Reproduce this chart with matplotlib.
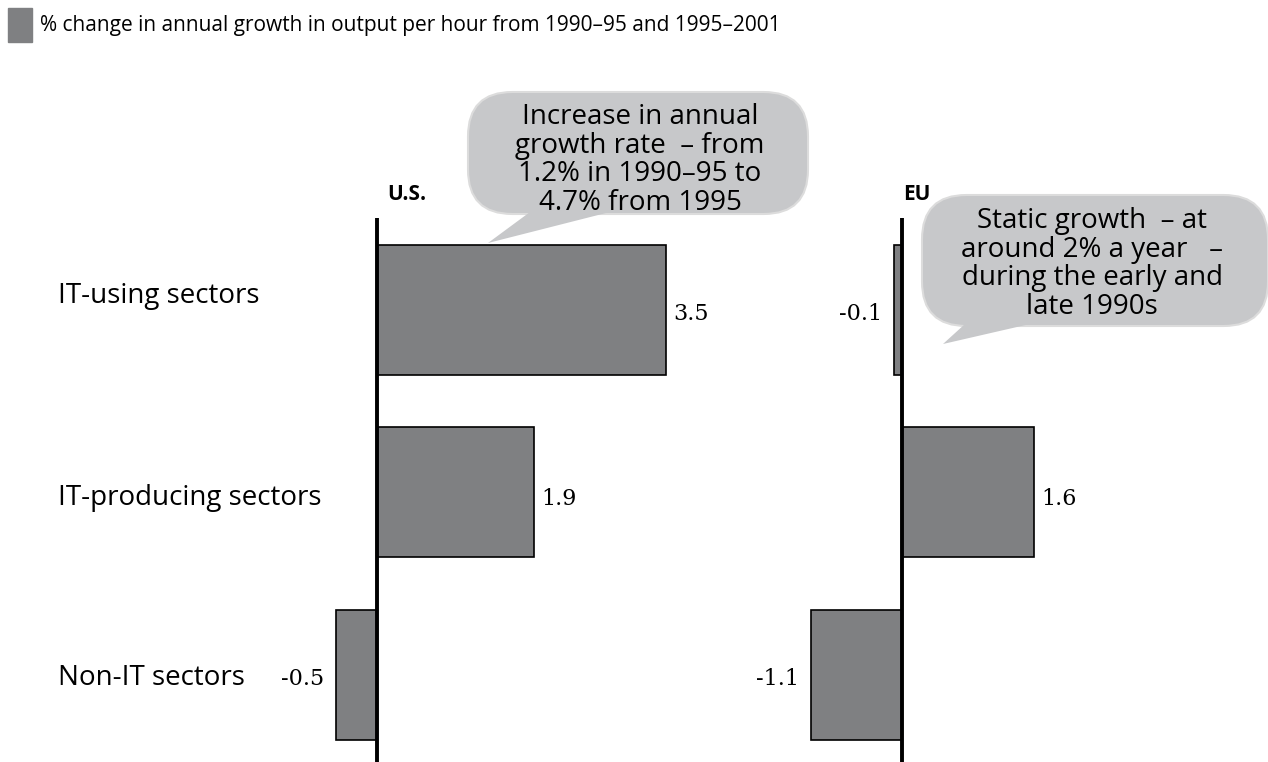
import matplotlib.pyplot as plt
import matplotlib.transforms as mtransforms
from matplotlib.patches import FancyBboxPatch, Polygon, Rectangle

categories = ["IT-using sectors", "IT-producing sectors", "Non-IT sectors"]
us_values = [3.5, 1.9, -0.5]
eu_values = [-0.1, 1.6, -1.1]
regions = ["U.S.", "EU"]
legend_text = "% change in annual growth in output per hour from 1990\u201395 and 1995\u20132001"
us_note = "Increase in annual\ngrowth rate  \u2013 from\n1.2% in 1990\u201395 to\n4.7% from 1995"
eu_note = "Static growth  \u2013 at\naround 2% a year   \u2013\nduring the early and\nlate 1990s"

W, H = 1268, 762
BAR = "#7f8082"
BUBBLE = "#c7c8ca"
SANS = ["Open Sans", "DejaVu Sans"]
SERIF = ["DejaVu Serif"]

# baseline shifts (pixels, downwards) for the row labels and value labels
label_shift = [-7, 13, 10]
value_shift = [10, 13, 10]

fig = plt.figure(figsize=(W / 100, H / 100), dpi=100)


def fx(x):
    return x / W


def fy(y):
    return 1 - y / H


scale = 82.6  # pixels per percentage point
y_top, y_bot = 218, 762
ylim = (2.477, -0.504)


def make_axes(zero_px, xmin, xmax):
    left = zero_px + xmin * scale
    width = (xmax - xmin) * scale
    ax = fig.add_axes([fx(left), fy(y_bot), width / W, (y_bot - y_top) / H])
    ax.set_xlim(xmin, xmax)
    ax.set_ylim(*ylim)
    ax.axis("off")
    return ax


ax_us = make_axes(377, -1.0, 4.5)
ax_eu = make_axes(902, -1.5, 4.3)

ypos = list(range(len(categories)))
for ax, vals in [(ax_us, us_values), (ax_eu, eu_values)]:
    ax.barh(ypos, vals, height=0.712, color=BAR, edgecolor="black",
            linewidth=1.2, zorder=2)
    ax.axvline(0, color="black", linewidth=2.8, zorder=3)
    for y, v, dy in zip(ypos, vals, value_shift):
        dx, ha = (7, "left") if v >= 0 else (-12, "right")
        ax.annotate(f"{v:.1f}", (v, y), xytext=(dx, -dy),
                    textcoords="offset pixels", ha=ha, va="baseline",
                    fontsize=16, family=SERIF)

# region headings above each axis line
fig.text(fx(387), fy(195), regions[0], fontsize=15, fontweight="bold",
         family=SANS, va="center", ha="left")
fig.text(fx(903), fy(195), regions[1], fontsize=15, fontweight="bold",
         family=SANS, va="center", ha="left")

# category labels down the left
trans = mtransforms.blended_transform_factory(fig.transFigure, ax_us.transData)
for y, name, dy in zip(ypos, categories, label_shift):
    ax_us.annotate(name, (fx(58), y), xycoords=trans, xytext=(0, -dy),
                   textcoords="offset pixels", fontsize=20, family=SANS,
                   va="baseline", ha="left", annotation_clip=False)

# legend swatch and caption
fig.patches.append(Rectangle((fx(8), fy(42)), 24 / W, 34 / H, color=BAR,
                             transform=fig.transFigure, figure=fig))
fig.text(fx(40), fy(25), legend_text, fontsize=15, family=SANS,
         va="center", ha="left")


def bubble(x0, y0, x1, y1, tail, note, cx, cy):
    box = FancyBboxPatch((fx(x0), fy(y1)), (x1 - x0) / W, (y1 - y0) / H,
                         boxstyle="round,pad=0,rounding_size=0.035",
                         mutation_aspect=W / H,
                         facecolor=BUBBLE, edgecolor="#dcdcdc", linewidth=1.5,
                         transform=fig.transFigure, figure=fig, zorder=5)
    fig.patches.append(box)
    tri = Polygon([(fx(p[0]), fy(p[1])) for p in tail], closed=True,
                  facecolor=BUBBLE, edgecolor="none",
                  transform=fig.transFigure, figure=fig, zorder=6)
    fig.patches.append(tri)
    fig.text(fx(cx), fy(cy), note, fontsize=20, family=SANS, ha="center",
             va="center", linespacing=1.02, zorder=7)


bubble(468, 92, 808, 214, [(530, 212), (610, 212), (488, 243)],
       us_note, 640, 160)
bubble(922, 195, 1268, 326, [(965, 324), (1030, 324), (943, 344)],
       eu_note, 1092, 264)

fig.savefig("out.png", dpi=100)
